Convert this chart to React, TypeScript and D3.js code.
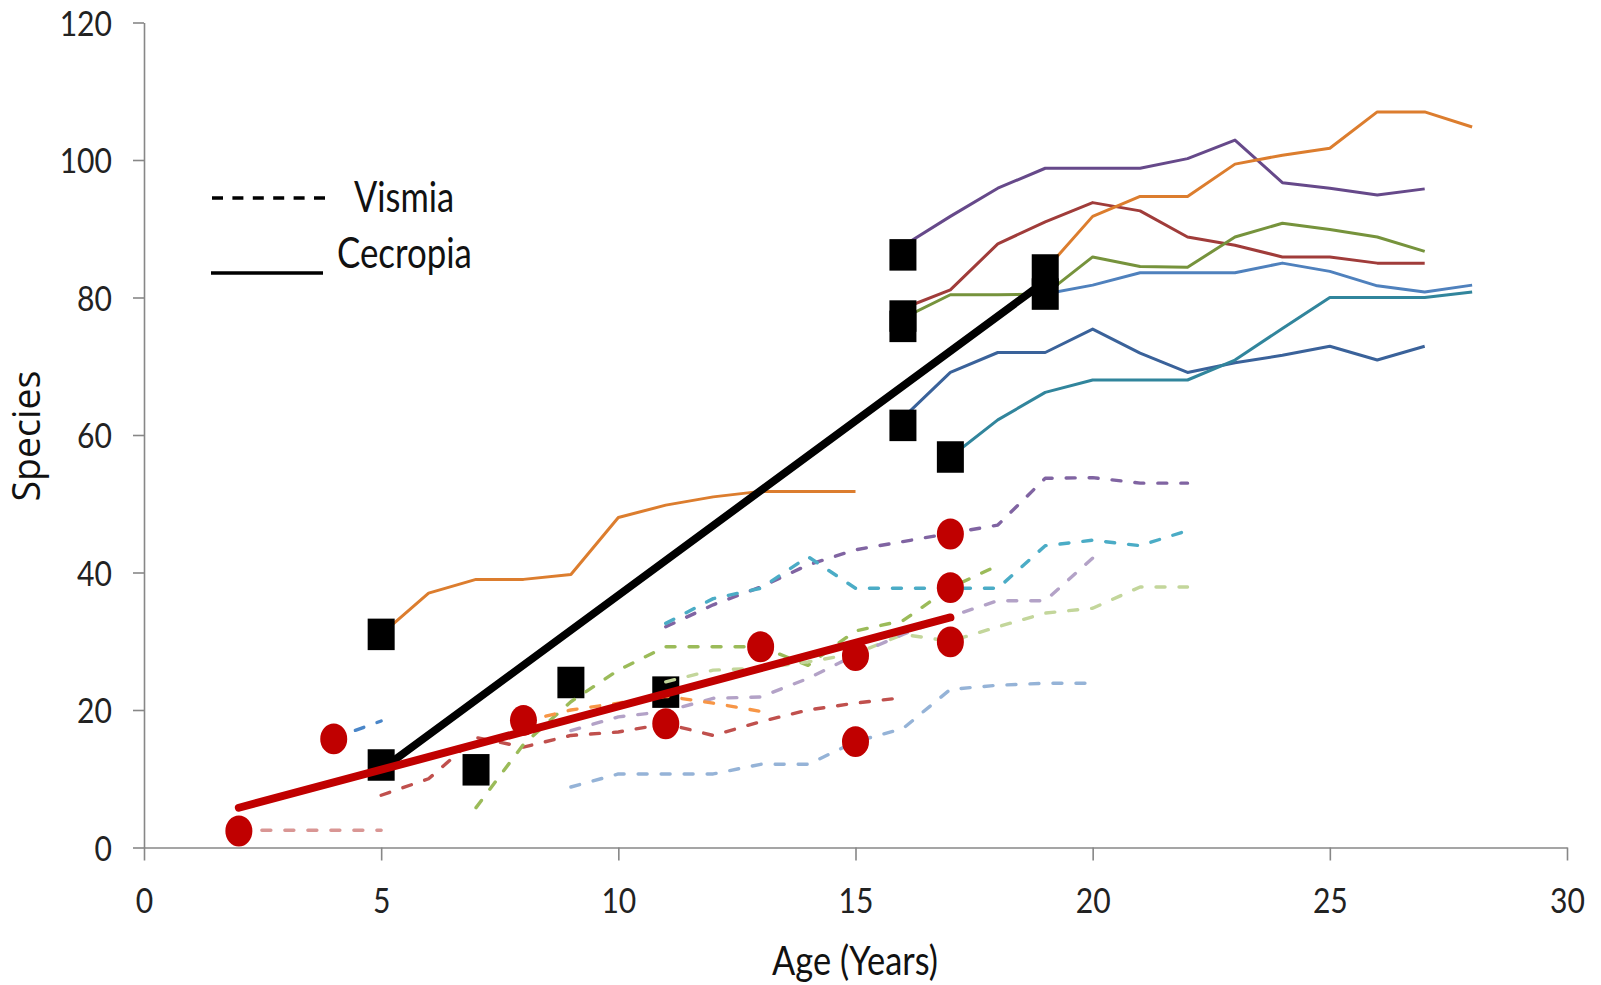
import * as d3 from "d3";
import { useEffect, useRef } from "react";

type Pt = [number, number];

// Cecropia plots (solid lines): [age, species]
const cecOrangeA: Pt[] = [[5, 31], [6, 37], [7, 39], [8, 39], [9, 39.7], [10, 48], [11, 49.8], [12, 51], [13, 51.8], [14, 51.8], [15, 51.8]];
const cecPurple: Pt[] = [[16, 87.5], [17, 91.8], [18, 95.9], [19, 98.8], [20, 98.8], [21, 98.8], [22, 100.2], [23, 102.9], [24, 96.7], [25, 95.9], [26, 94.9], [27, 95.8]];
const cecRed: Pt[] = [[16, 78.4], [17, 81.1], [18, 87.8], [19, 91], [20, 93.8], [21, 92.6], [22, 88.8], [23, 87.6], [24, 85.9], [25, 85.9], [26, 85], [27, 85]];
const cecOrangeB: Pt[] = [[19, 84], [20, 91.8], [21, 94.7], [22, 94.7], [23, 99.4], [24, 100.7], [25, 101.7], [26, 107], [27, 107], [28, 104.8]];
const cecGreen: Pt[] = [[16, 77], [17, 80.4], [18, 80.4], [19, 80.5], [20, 85.9], [21, 84.5], [22, 84.4], [23, 88.8], [24, 90.8], [25, 89.9], [26, 88.8], [27, 86.7]];
const cecBlue: Pt[] = [[19, 80.5], [20, 81.8], [21, 83.6], [22, 83.6], [23, 83.6], [24, 85], [25, 83.8], [26, 81.7], [27, 80.8], [28, 81.8]];
const cecNavy: Pt[] = [[16, 62.5], [17, 69.1], [18, 72], [19, 72], [20, 75.4], [21, 71.9], [22, 69.1], [23, 70.5], [24, 71.6], [25, 72.9], [26, 70.9], [27, 72.9]];
const cecTeal: Pt[] = [[17, 56.8], [18, 62.2], [19, 66.2], [20, 68], [21, 68], [22, 68], [23, 70.9], [24, 75.5], [25, 80], [26, 80], [27, 80], [28, 80.8]];

// Vismia plots (dashed lines)
const visPink: Pt[] = [[2, 2.5], [3, 2.5], [4, 2.5], [5, 2.5]];
const visBlue: Pt[] = [[4, 15.9], [5, 18.4]];
const visRed: Pt[] = [[5, 7.6], [6, 10], [7, 16], [8, 14.6], [9, 16.3], [10, 16.8], [11, 18], [12, 16.3], [13, 18.3], [14, 20], [15, 21], [16, 21.8]];
const visGreen: Pt[] = [[7, 5.8], [8, 15], [9, 21.2], [10, 25.8], [11, 29.2], [12, 29.2], [13, 29.2], [14, 26.5], [15, 31.5], [16, 33], [17, 37.8], [18, 41]];
const visLightGreen: Pt[] = [[11, 24.1], [12, 25.8], [13, 26.1], [14, 27], [15, 28.2], [16, 31], [17, 30], [18, 32.1], [19, 34.1], [20, 34.8], [21, 37.9], [22, 37.9]];
const visLavender: Pt[] = [[9, 17], [10, 19], [11, 19.8], [12, 21.7], [13, 21.9], [14, 24.6], [15, 28], [16, 31], [17, 33.6], [18, 35.9], [19, 35.9], [20, 42.1]];
const visPurple: Pt[] = [[11, 32.1], [12, 35.3], [13, 37.9], [14, 41.1], [15, 43.3], [16, 44.5], [17, 45.7], [18, 46.9], [19, 53.7], [20, 53.8], [21, 53], [22, 53]];
const visCyan: Pt[] = [[11, 32.6], [12, 36.2], [13, 37.7], [14, 42.3], [15, 37.7], [16, 37.7], [17, 37.7], [18, 37.7], [19, 43.9], [20, 44.7], [21, 43.9], [22, 46.1]];
const visPeriwinkle: Pt[] = [[9, 8.8], [10, 10.7], [11, 10.7], [12, 10.7], [13, 12.1], [14, 12.1], [15, 15.4], [16, 17.3], [17, 23], [18, 23.6], [19, 23.9], [20, 23.9]];
const visOrange: Pt[] = [[8, 18.3], [9, 20], [10, 21], [11, 22], [12, 21], [13, 19.8]];

// plot points at sampled ages
const cecropiaAge = [5, 5, 7, 9, 11, 16, 16, 16, 16, 17, 19, 19];
const cecropiaSpecies = [31, 12, 11.3, 24, 22.6, 86.2, 77.3, 75.8, 61.4, 56.8, 84, 80.5];
const vismiaAge = [2, 4, 8, 11, 13, 15, 15, 17, 17, 17];
const vismiaSpecies = [2.4, 15.8, 18.5, 18, 29.2, 27.9, 15.4, 45.6, 37.8, 29.9];

const xTicks = [0, 5, 10, 15, 20, 25, 30];
const yTicks = [0, 20, 40, 60, 80, 100, 120];

const cecropiaLines = [
  { data: cecOrangeA, color: "#DC7D2E" },
  { data: cecPurple, color: "#66498A" },
  { data: cecRed, color: "#A03C3A" },
  { data: cecOrangeB, color: "#DC7D2E" },
  { data: cecGreen, color: "#76933C" },
  { data: cecBlue, color: "#4F81BD" },
  { data: cecNavy, color: "#3A629A" },
  { data: cecTeal, color: "#31859C" },
];

const vismiaLines = [
  { data: visPink, color: "#D99694" },
  { data: visBlue, color: "#4A86C8" },
  { data: visRed, color: "#C0504D" },
  { data: visGreen, color: "#9BBB59" },
  { data: visLightGreen, color: "#C3D69B" },
  { data: visLavender, color: "#B3A2C7" },
  { data: visPurple, color: "#8064A2" },
  { data: visCyan, color: "#4BACC6" },
  { data: visPeriwinkle, color: "#95B3D7" },
  { data: visOrange, color: "#F79646" },
];

// least squares trend, drawn over the range of the points
const trend = (xs: number[], ys: number[]): Pt[] => {
  const mx = d3.mean(xs)!;
  const my = d3.mean(ys)!;
  const sxy = d3.sum(xs, (v, i) => (v - mx) * (ys[i] - my));
  const sxx = d3.sum(xs, v => (v - mx) * (v - mx));
  const b = sxy / sxx;
  const a = my - b * mx;
  const [lo, hi] = d3.extent(xs) as [number, number];
  return [[lo, a + b * lo], [hi, a + b * hi]];
};

const W = 1601;
const H = 985;
const FONT = "Lato, 'Open Sans', sans-serif";
const SX = 0.86;

const App = () => {
  const xAxisRef = useRef<SVGGElement>(null);
  const yAxisRef = useRef<SVGGElement>(null);

  const x = d3.scaleLinear().domain([0, 30]).range([144, 1567]);
  const y = d3.scaleLinear().domain([0, 120]).range([847.5, 22.5]);
  const line = d3.line<Pt>().x(d => x(d[0])).y(d => y(d[1]));

  const cecTrend = trend(cecropiaAge, cecropiaSpecies);
  const visTrend = trend(vismiaAge, vismiaSpecies);

  useEffect(() => {
    const gx = d3.select(xAxisRef.current!);
    gx.selectAll("*").remove();
    gx.call(d3.axisBottom(x).tickValues(xTicks).tickSize(13).tickSizeOuter(0).tickPadding(28).tickFormat(d3.format("d")));
    const gy = d3.select(yAxisRef.current!);
    gy.selectAll("*").remove();
    gy.call(d3.axisLeft(y).tickValues(yTicks).tickSize(11).tickSizeOuter(0).tickPadding(21).tickFormat(d3.format("d")));

    [gx, gy].forEach(g => {
      g.attr("font-family", null).attr("font-size", null);
      g.select(".domain").attr("stroke", "#878787").attr("stroke-width", 1.6);
      g.selectAll(".tick line").attr("stroke", "#878787").attr("stroke-width", 1.6);
      g.selectAll(".tick text")
        .style("font-family", FONT)
        .style("font-size", "35px")
        .attr("fill", "#222");
    });
    gx.selectAll(".tick text").attr("transform", `scale(${SX},1)`);
    gy.selectAll(".tick text")
      .attr("x", -32 / SX)
      .attr("dy", "0.36em")
      .attr("transform", `scale(${SX},1)`);
  }, []);

  return (
    <svg width={W} height={H} style={{ position: "absolute", left: 0, top: 0, background: "#fff" }}>
      <rect width={W} height={H} fill="#fff" />
      <g ref={xAxisRef} transform={`translate(0,${y(0)})`} />
      <g ref={yAxisRef} transform={`translate(${x(0)},0)`} />

      {cecropiaLines.map((s, i) => (
        <path key={"c" + i} d={line(s.data)!} fill="none" stroke={s.color} strokeWidth={3} strokeLinejoin="round" />
      ))}

      {cecropiaAge.map((a, i) => (
        <rect key={"sq" + i} x={x(a) - 13.5} y={y(cecropiaSpecies[i]) - 15.75} width={27} height={31.5} fill="#000" />
      ))}

      {vismiaLines.map((s, i) => (
        <path key={"v" + i} d={line(s.data)!} fill="none" stroke={s.color} strokeWidth={3.4}
          strokeDasharray="9 14" strokeLinecap="round" strokeLinejoin="round" />
      ))}

      {vismiaAge.map((a, i) => (
        <ellipse key={"ci" + i} cx={x(a)} cy={y(vismiaSpecies[i])} rx={13.5} ry={15.4} fill="#C00000" />
      ))}

      <path d={line(cecTrend)!} fill="none" stroke="#000" strokeWidth={7.8} strokeLinecap="round" />
      <path d={line(visTrend)!} fill="none" stroke="#C00000" strokeWidth={8} strokeLinecap="round" />

      {/* legend */}
      <line x1={212} x2={325} y1={198} y2={198} stroke="#000" strokeWidth={3.3} strokeDasharray="11 9.4" />
      <text transform={`translate(354,212) scale(0.82,1)`} fontFamily={FONT} fontSize={42} fill="#111">Vismia</text>
      <line x1={211} x2={323} y1={273} y2={273} stroke="#000" strokeWidth={3.6} />
      <text transform={`translate(337,268) scale(0.83,1)`} fontFamily={FONT} fontSize={42} fill="#111">Cecropia</text>

      {/* axis titles */}
      <text transform={`translate(855,975) scale(0.86,1)`} textAnchor="middle" fontFamily={FONT} fontSize={40} fill="#111">Age (Years)</text>
      <text transform={`translate(40,436) rotate(-90)`} textAnchor="middle" fontFamily="'Open Sans', sans-serif" fontSize={37.5} fill="#111">Species</text>
    </svg>
  );
};

export default App;
